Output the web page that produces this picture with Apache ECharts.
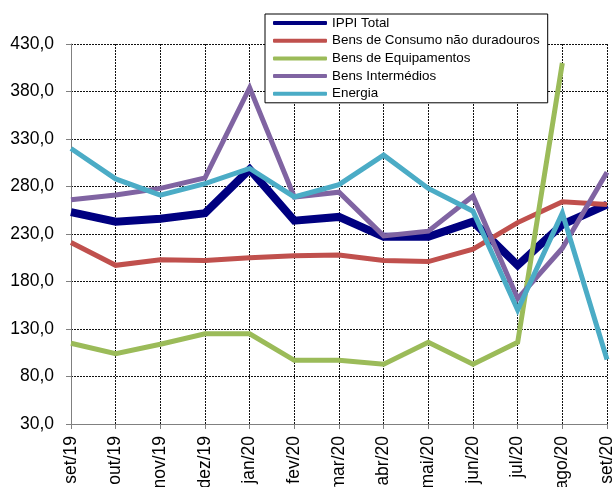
<!DOCTYPE html>
<html>
<head>
<meta charset="utf-8">
<script src="https://cdn.jsdelivr.net/npm/echarts@6/dist/echarts.min.js"></script>
<style>
  html, body { margin: 0; padding: 0; background: #fff; }
  #chart { width: 614px; height: 487px; }
</style>
</head>
<body>
<div id="chart"></div>
<script>
// months on the x axis
const months = ['set/19', 'out/19', 'nov/19', 'dez/19', 'jan/20', 'fev/20', 'mar/20',
  'abr/20', 'mai/20', 'jun/20', 'jul/20', 'ago/20', 'set/20'];

const ippiTotal = [253, 243, 246, 252, 298, 244, 248, 227, 227, 243, 197, 240, 261];
const bensConsumo = [221, 197, 203, 202, 205, 207, 208, 202, 201, 214, 242, 264, 261];
const bensEquip = [115, 104, 114, 125, 125, 97, 97, 93, 116, 93, 116, 410, null];
const bensInterm = [266, 271, 278, 289, 384, 269, 274, 228, 233, 270, 162, 215, 295];
const energia = [320, 288, 271, 283, 299, 269, 282, 313, 278, 254, 150, 252, 98];

const seriesNames = ['IPPI Total', 'Bens de Consumo não duradouros', 'Bens de Equipamentos',
  'Bens Intermédios', 'Energia'];
const seriesData = [ippiTotal, bensConsumo, bensEquip, bensInterm, energia];
const colors = ['#000080', '#C0504D', '#9BBB59', '#8064A2', '#4BACC6'];
const widths = [8, 5, 5, 5, 5];

const chart = echarts.init(document.getElementById('chart'), null, { renderer: 'canvas' });

const gridLine = { show: true, lineStyle: { color: '#111', type: [2, 1], width: 1 } };

chart.setOption({
  backgroundColor: '#fff',
  animation: false,
  textStyle: { fontFamily: 'Liberation Sans, Arial, sans-serif' },
  grid: { left: 71, right: 7, top: 44, bottom: 63, containLabel: false, outerBoundsMode: 'none' },
  legend: {
    orient: 'vertical',
    left: 265,
    top: 14,
    backgroundColor: '#fff',
    borderColor: '#000',
    borderWidth: 1,
    borderRadius: 0,
    padding: [2, 8, 2, 8],
    itemGap: 3.7,
    itemWidth: 54,
    itemHeight: 4,
    icon: 'roundRect',
    textStyle: { fontSize: 13.4, color: '#000', lineHeight: 14 },
    data: seriesNames
  },
  xAxis: {
    type: 'category',
    data: months,
    boundaryGap: false,
    axisLine: { lineStyle: { color: '#808080', width: 1 } },
    axisTick: { show: true, length: 5, lineStyle: { color: '#808080' } },
    axisLabel: { rotate: 90, fontSize: 17.5, color: '#000', margin: 12 },
    splitLine: gridLine
  },
  yAxis: {
    type: 'value',
    min: 30,
    max: 430,
    interval: 50,
    axisLine: { show: true, lineStyle: { color: '#808080', width: 1 } },
    axisTick: { show: true, length: 5, lineStyle: { color: '#808080' } },
    axisLabel: {
      fontSize: 17.5,
      color: '#000',
      margin: 17,
      formatter: (v) => v.toFixed(1).replace('.', ',')
    },
    splitLine: gridLine
  },
  series: seriesNames.map((name, i) => ({
    name: name,
    type: 'line',
    data: seriesData[i],
    showSymbol: false,
    symbol: 'none',
    color: colors[i],
    lineStyle: { color: colors[i], width: widths[i], join: 'miter' }
  }))
});
</script>
</body>
</html>
